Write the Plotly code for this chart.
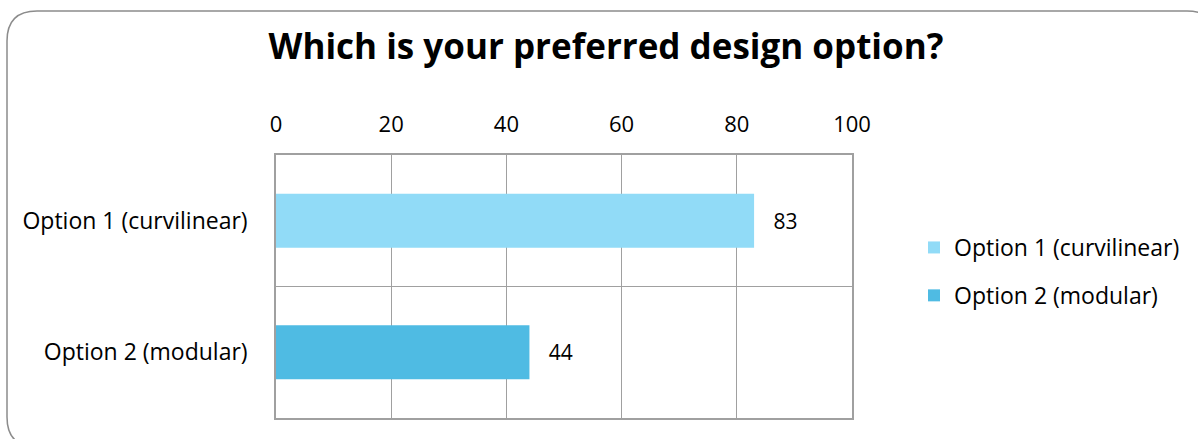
import plotly.graph_objects as go

categories = ["Option 1 (curvilinear)", "Option 2 (modular)"]
values = [83, 44]
colors = ["#91DBF7", "#4FBBE3"]
x_ticks = [0, 20, 40, 60, 80, 100]

W, H = 1198, 439
L, R, T, B = 276, 852, 155, 418
pw, ph = R - L, B - T

def px(x):
    return (x - L) / pw

def py(y):
    return (B - y) / ph

FONT = "Open Sans"

fig = go.Figure()
for i, (cat, val) in enumerate(zip(categories, values)):
    fig.add_trace(go.Bar(
        x=[val], y=[cat], orientation="h", name=cat,
        marker=dict(color=colors[i], line=dict(width=0)),
        width=0.41,
        text=[val], texttemplate="   %{x}", textposition="outside",
        textfont=dict(family=FONT, size=21, color="#000000"),
        cliponaxis=False,
        legendgroup=f"g{i}",
    ))

# rounded outer frame
x0, x1, y0, y1, r = 7, 1217, 11, 447, 30
path = (f"M {px(x0)},{py(y0 + r)} Q {px(x0)},{py(y0)} {px(x0 + r)},{py(y0)} "
        f"L {px(x1 - r)},{py(y0)} Q {px(x1)},{py(y0)} {px(x1)},{py(y0 + r)} "
        f"L {px(x1)},{py(y1 - r)} Q {px(x1)},{py(y1)} {px(x1 - r)},{py(y1)} "
        f"L {px(x0 + r)},{py(y1)} Q {px(x0)},{py(y1)} {px(x0)},{py(y1 - r)} Z")

fig.update_layout(
    width=W, height=H,
    margin=dict(l=L, r=W - R, t=T, b=H - B, autoexpand=False),
    paper_bgcolor="white", plot_bgcolor="white",
    barmode="overlay",
    title=dict(text="<b>Which is your preferred design option?</b>",
               x=606 / W, xanchor="center", y=1 - 47 / H, yanchor="middle",
               font=dict(family=FONT, size=35, color="#000000")),
    xaxis=dict(side="top", range=[0, 100], tickvals=x_ticks,
               showgrid=True, gridcolor="#A0A0A0", gridwidth=1.3,
               showline=True, linecolor="#A0A0A0", linewidth=1.5, mirror=True,
               zeroline=False, ticks="", ticklabelstandoff=12,
               tickfont=dict(family=FONT, size=22, color="#000000")),
    yaxis=dict(type="category", categoryorder="array", categoryarray=categories[::-1],
               tickson="boundaries", showgrid=True, gridcolor="#A0A0A0", gridwidth=1.3,
               showline=True, linecolor="#A0A0A0", linewidth=1.5, mirror=True,
               ticks="", ticklabelstandoff=22,
               tickfont=dict(family=FONT, size=23, color="#000000")),
    legend=dict(x=px(914), xanchor="left", y=py(226), yanchor="top",
                font=dict(family=FONT, size=23, color="#000000"),
                traceorder="grouped", tracegroupgap=15,
                itemwidth=30, bgcolor="rgba(0,0,0,0)"),
    shapes=[dict(type="path", path=path, xref="paper", yref="paper",
                 line=dict(color="#8C8C8C", width=1.5), layer="below")],
    showlegend=True,
)

fig.write_html("out.html", config={"displayModeBar": False},
               post_script="document.body.style.margin='0';document.body.style.overflow='hidden';")
